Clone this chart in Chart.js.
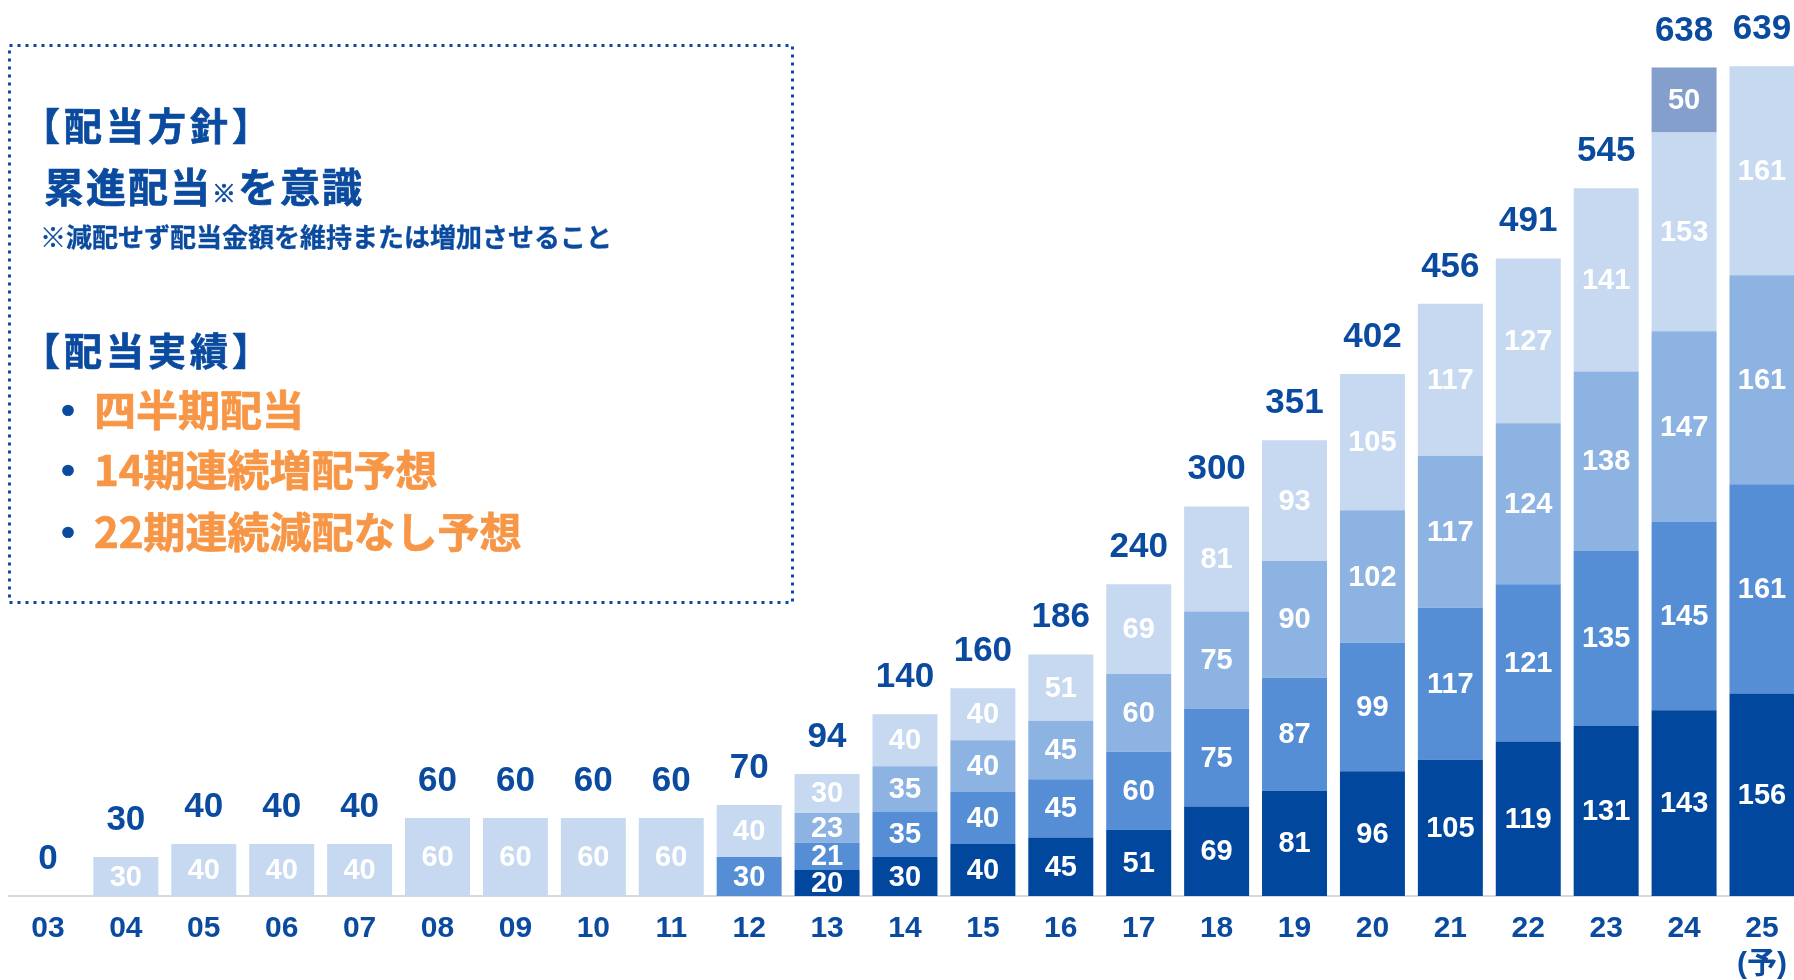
<!DOCTYPE html>
<html>
<head>
<meta charset="utf-8">
<script src="https://cdn.jsdelivr.net/npm/chart.js"></script>
<style>
    html, body { margin: 0; padding: 0; background: #fff; overflow: hidden; }
    #wrap { position: relative; width: 1802px; height: 980px; }
    #chart { display: block; }
    .t {
        position: absolute;
        white-space: nowrap;
        line-height: 1;
        font-family: 'Noto Sans CJK JP', sans-serif;
        font-weight: 700;
        color: #0a4a9f;
        -webkit-text-stroke: 0.7px currentColor;
    }
    .head { font-size: 38px; letter-spacing: 4px; }
    .orange { color: #f79646; }
</style>
</head>
<body>
<div id="wrap">
    <canvas id="chart" width="1802" height="980"></canvas>

    <svg style="position:absolute;left:8px;top:44px" width="786" height="560">
        <rect x="1.5" y="1.5" width="783" height="557" fill="none" stroke="#0a4a9f" stroke-width="3" stroke-dasharray="3 5"/>
    </svg>
    <div class="t head" style="left:22px;top:105px">【配当方針】</div>
    <div class="t" style="left:44px;top:165px;font-size:40px;letter-spacing:2px">累進配当<span style="font-size:24px">※</span>を意識</div>
    <div class="t" style="left:40px;top:223px;font-size:26px;-webkit-text-stroke:0.3px #0a4a9f">※減配せず配当金額を維持または増加させること</div>
    <div class="t head" style="left:22px;top:330px">【配当実績】</div>
    <div class="t" style="left:47px;top:387px;font-size:42px">・</div>
    <div class="t orange" style="left:94px;top:387px;font-size:42px">四半期配当</div>
    <div class="t" style="left:47px;top:447px;font-size:42px">・</div>
    <div class="t orange" style="left:94px;top:447px;font-size:42px">14期連続増配予想</div>
    <div class="t" style="left:47px;top:509px;font-size:42px">・</div>
    <div class="t orange" style="left:94px;top:509px;font-size:42px">22期連続減配なし予想</div>
</div>

<script>
const years = ['03', '04', '05', '06', '07', '08', '09', '10', '11', '12', '13', '14',
    '15', '16', '17', '18', '19', '20', '21', '22', '23', '24', ['25', '(予)']];

// quarterly dividends, bottom to top
const q1 = [null, null, null, null, null, null, null, null, null, null, 20, 30, 40, 45, 51, 69, 81, 96, 105, 119, 131, 143, 156];
const q2 = [null, null, null, null, null, null, null, null, null, 30, 21, 35, 40, 45, 60, 75, 87, 99, 117, 121, 135, 145, 161];
const q3 = [null, null, null, null, null, null, null, null, null, null, 23, 35, 40, 45, 60, 75, 90, 102, 117, 124, 138, 147, 161];
const q4 = [null, 30, 40, 40, 40, 60, 60, 60, 60, 40, 30, 40, 40, 51, 69, 81, 93, 105, 117, 127, 141, 153, 161];
const special = [null, null, null, null, null, null, null, null, null, null, null, null, null, null, null, null, null, null, null, null, null, 50, null];

const totals = [0, 30, 40, 40, 40, 60, 60, 60, 60, 70, 94, 140, 160, 186, 240, 300, 351, 402, 456, 491, 545, 638, 639];

const blueText = '#0a4a9f';
const numFont = "'Liberation Sans', 'Noto Sans CJK JP', sans-serif";

const labelPlugin = {
    id: 'barLabels',
    afterDatasetsDraw(chart) {
        const ctx = chart.ctx;
        ctx.save();
        ctx.textAlign = 'center';

        // values inside each segment
        ctx.fillStyle = '#fff';
        ctx.font = 'bold 29px ' + numFont;
        ctx.textBaseline = 'middle';
        chart.data.datasets.forEach((ds, i) => {
            const meta = chart.getDatasetMeta(i);
            meta.data.forEach((bar, j) => {
                const v = ds.data[j];
                if (!v) return;
                ctx.fillText(String(v), bar.x, (bar.y + bar.base) / 2 + 1);
            });
        });

        // totals above the bars
        const x = chart.scales.x;
        const y = chart.scales.y;
        ctx.fillStyle = blueText;
        ctx.font = 'bold 35px ' + numFont;
        ctx.textBaseline = 'alphabetic';
        totals.forEach((t, j) => {
            ctx.fillText(String(t), x.getPixelForValue(j), y.getPixelForValue(t) - 27);
        });
        ctx.restore();
    }
};

const data = {
    labels: years,
    datasets: [
        { label: 'Q1', data: q1, backgroundColor: '#00479d' },
        { label: 'Q2', data: q2, backgroundColor: '#558ed5' },
        { label: 'Q3', data: q3, backgroundColor: '#8db3e2' },
        { label: 'Q4', data: q4, backgroundColor: '#c6d9f1' },
        { label: '記念', data: special, backgroundColor: '#849fcb' }
    ]
};

const config = {
    type: 'bar',
    data: data,
    options: {
        responsive: false,
        animation: false,
        devicePixelRatio: 1,
        barPercentage: 0.834,
        categoryPercentage: 1.0,
        layout: {
            padding: { left: 9, right: 1, top: 0, bottom: 0 }
        },
        plugins: {
            legend: { display: false },
            tooltip: { enabled: false }
        },
        scales: {
            x: {
                stacked: true,
                grid: { display: false, drawTicks: false },
                border: { display: true, color: '#d9d9d9', width: 2 },
                ticks: {
                    color: blueText,
                    padding: 15,
                    font: { family: numFont, size: 30, weight: 'bold', lineHeight: 1.2 }
                },
                afterFit: (scale) => { scale.height = 84; }
            },
            y: {
                stacked: true,
                display: false,
                min: 0,
                max: 690
            }
        }
    },
    plugins: [labelPlugin]
};

new Chart(
    document.getElementById('chart'),
    config
);
</script>
</body>
</html>
